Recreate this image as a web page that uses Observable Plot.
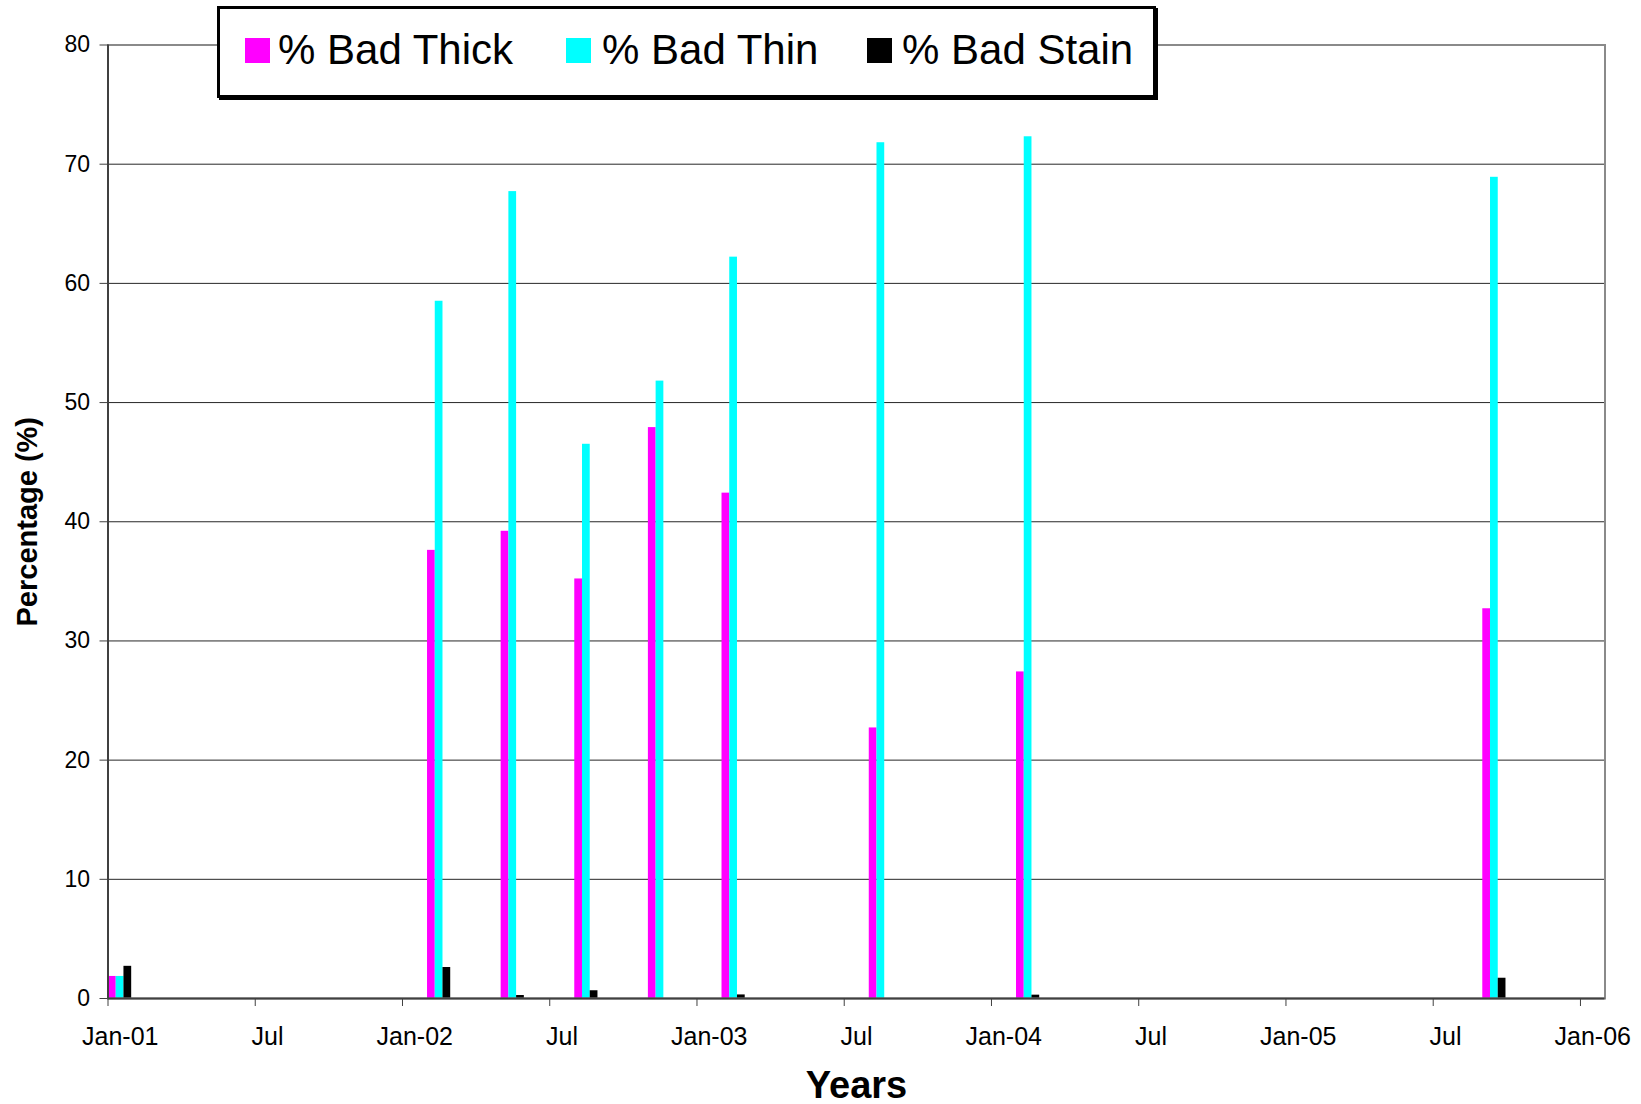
<!DOCTYPE html>
<html>
<head>
<meta charset="utf-8">
<script src="https://cdn.jsdelivr.net/npm/d3@7"></script>
<script src="https://cdn.jsdelivr.net/npm/@observablehq/plot@0.6"></script>
<style>
  body { margin: 0; background: #fff; }
  #wrap { position: relative; width: 1641px; height: 1104px; font-family: "Liberation Sans", Arial, sans-serif; }
  #wrap svg { position: absolute; left: 0; top: 0; }
  #legend { position: absolute; left: 217px; top: 6px; width: 939px; height: 92px; box-sizing: border-box;
            border: 3px solid #000; background: #fff; box-shadow: 2px 2px 0 #000; }
  .sw { position: absolute; width: 25px; height: 25px; }
  .lt { position: absolute; font-size: 42px; line-height: 42px; color: #000; white-space: nowrap; }
</style>
</head>
<body>
<div id="wrap"></div>
<script>
// ---- data ----
const months    = ["2001-01", "2002-02", "2002-05", "2002-08", "2002-11", "2003-02", "2003-08", "2004-02", "2005-09"];
const badThick  = [1.85, 37.6, 39.2, 35.2, 47.9, 42.4, 22.7, 27.4, 32.7];
const badThin   = [1.85, 58.5, 67.7, 46.5, 51.8, 62.2, 71.8, 72.3, 68.9];
const badStain  = [2.7, 2.6, 0.25, 0.65, 0, 0.3, 0, 0.28, 1.7];
const seriesNames = ["% Bad Thick", "% Bad Thin", "% Bad Stain"];
const seriesColors = ["#FF00FF", "#00FFFF", "#000000"];
const yTicks = [0, 10, 20, 30, 40, 50, 60, 70, 80];
const xTickLabels = ["Jan-01", "Jul", "Jan-02", "Jul", "Jan-03", "Jul", "Jan-04", "Jul", "Jan-05", "Jul", "Jan-06"];

// month index (equal-width months, as in the original date axis)
const monthIndex = s => { const [y, m] = s.split("-").map(Number); return (y - 2001) * 12 + (m - 1); };
const values = [badThick, badThin, badStain];
const barW = 0.315, off = 0.02;
const rows = [];
months.forEach((mo, i) => {
  const idx = monthIndex(mo);
  seriesNames.forEach((s, k) => {
    rows.push({ series: s, x1: idx + off + k * barW, x2: idx + off + (k + 1) * barW, value: values[k][i] });
  });
});
const xTickPos = xTickLabels.map((_, i) => i * 6);
const xLabelPos = xTickLabels.map((_, i) => i * 6 + 0.5);

const chart = Plot.plot({
  width: 1641,
  height: 1104,
  marginLeft: 107.5,
  marginRight: 36.5,
  marginTop: 44.5,
  marginBottom: 106,
  style: { fontFamily: "'Liberation Sans', Arial, sans-serif", color: "#000", background: "#fff" },
  x: { type: "linear", domain: [0, 61] },
  y: { domain: [0, 80] },
  color: { domain: seriesNames, range: seriesColors },
  marks: [
    Plot.gridY(yTicks.filter(v => v > 0 && v < 80), { stroke: "#000", strokeOpacity: 0.85, strokeWidth: 1 }),
    Plot.rectY(rows, { x1: "x1", x2: "x2", y1: 0, y2: "value", fill: "series", inset: 0 }),
    Plot.frame({ stroke: "#8a8a8a", strokeWidth: 2 }),
    Plot.ruleX([0], { stroke: "#404040", strokeWidth: 2 }),
    Plot.ruleY([0], { stroke: "#404040", strokeWidth: 2 }),
    Plot.axisY(yTicks, { tickSize: 8, tickPadding: 10, fontSize: 23, label: null, stroke: "#404040" }),
    Plot.axisX(xTickPos, { tickSize: 8, tickFormat: () => "", label: null, stroke: "#404040" }),
    Plot.axisX(xLabelPos, { tickSize: 0, tickPadding: 29, fontSize: 25, label: null,
                            tickFormat: (d) => xTickLabels[Math.round((d - 0.5) / 6)] }),
    Plot.text(["Years"], { frameAnchor: "bottom", dy: 99, fontSize: 38, fontWeight: "bold" }),
    Plot.text(["Percentage (%)"], { frameAnchor: "left", textAnchor: "middle", dx: -80, rotate: -90, fontSize: 29, fontWeight: "bold" })
  ]
});
const wrap = document.getElementById("wrap");
wrap.appendChild(chart);

// legend (HTML, overlaid on the chart like the original)
const legend = document.createElement("div");
legend.id = "legend";
const swX = [245, 566, 867], txX = [278, 602, 902];
seriesNames.forEach((s, k) => {
  const sw = document.createElement("div");
  sw.className = "sw";
  sw.style.left = (swX[k] - 220) + "px";
  sw.style.top = (38 - 9) + "px";
  sw.style.background = seriesColors[k];
  legend.appendChild(sw);
  const t = document.createElement("div");
  t.className = "lt";
  t.style.left = (txX[k] - 220) + "px";
  t.style.top = (29 - 9) + "px";
  t.textContent = s;
  legend.appendChild(t);
});
wrap.appendChild(legend);
</script>
</body>
</html>
